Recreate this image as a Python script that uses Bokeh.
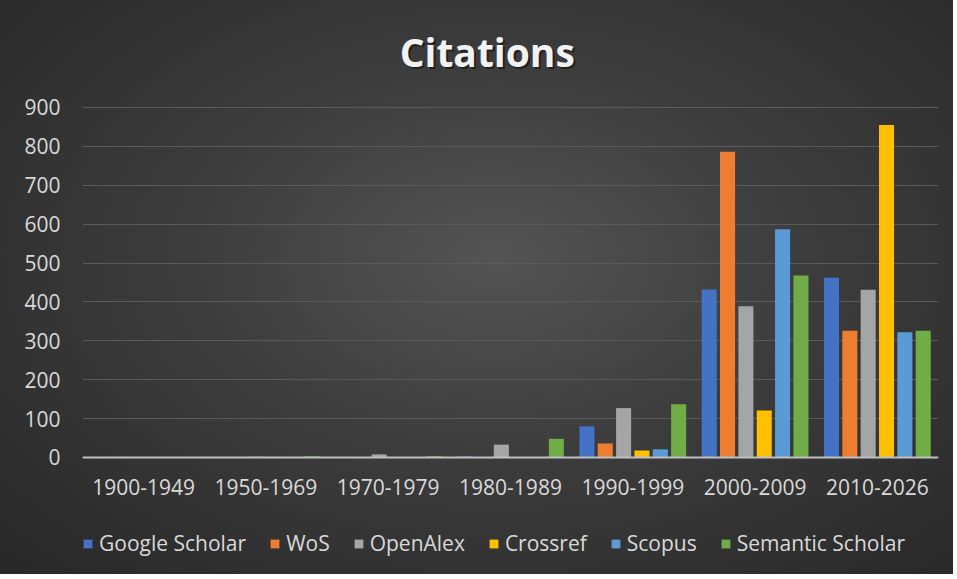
from bokeh.plotting import figure
from bokeh.models import FactorRange, Range1d, Legend, LegendItem, ColumnDataSource, FixedTicker, Label
from bokeh.transform import dodge
from bokeh.embed import file_html
from bokeh.resources import INLINE

# ---- data ----
periods = ["1900-1949", "1950-1969", "1970-1979", "1980-1989",
           "1990-1999", "2000-2009", "2010-2026"]
google_scholar = [0, 1, 1, 3, 80, 432, 462]
wos = [0, 0, 0, 1, 36, 786, 326]
openalex = [0, 2, 8, 33, 127, 389, 431]
crossref = [0, 1, 0, 1, 18, 121, 855]
scopus = [0, 0, 0, 1, 21, 587, 322]
semantic_scholar = [0, 3, 3, 48, 137, 468, 326]
series_names = ["Google Scholar", "WoS", "OpenAlex", "Crossref", "Scopus", "Semantic Scholar"]
series_keys = ["google_scholar", "wos", "openalex", "crossref", "scopus", "semantic_scholar"]
colors = ["#4472C4", "#ED7D31", "#A5A5A5", "#FFC000", "#5B9BD5", "#70AD47"]
y_ticks = [0, 100, 200, 300, 400, 500, 600, 700, 800, 900]
chart_title = "Citations"

source = ColumnDataSource(dict(
    periods=periods,
    google_scholar=google_scholar,
    wos=wos,
    openalex=openalex,
    crossref=crossref,
    scopus=scopus,
    semantic_scholar=semantic_scholar,
))

FONT = "Open Sans"
TXT = "#d9d9d9"

# frame spans the full height; the value axis (0..900) occupies the middle band,
# leaving room above for the title and below for the category labels and legend
p = figure(
    x_range=FactorRange(*periods, range_padding=0.0),
    y_range=Range1d(-300.9, 1175.1),
    width=953, height=574,
    output_backend="svg", toolbar_location=None,
    min_border_left=82, min_border_right=15,
    min_border_top=0, min_border_bottom=0,
)

p.styles = {"background": "radial-gradient(ellipse at 52% 45%, #545454 0%, #3c3c3c 45%, #272727 100%)"}
p.background_fill_alpha = 0
p.border_fill_alpha = 0
p.outline_line_color = None

# title (with a soft drop shadow)
for dx, dy, col, alpha in [(2, -2, "#000000", 0.45), (0, 0, "#f2f2f2", 1.0)]:
    p.add_layout(Label(x=3.31, y=1045, text=chart_title, text_align="center",
                       text_baseline="middle", x_offset=dx, y_offset=dy,
                       text_font=FONT, text_font_size="39px", text_font_style="bold",
                       text_color=col, text_alpha=alpha))

items = []
pitch = 0.15
for i, (key, name, col) in enumerate(zip(series_keys, series_names, colors)):
    r = p.vbar(x=dodge("periods", (i - 2.5) * pitch, range=p.x_range), top=key,
               width=0.123, source=source, fill_color=col, line_color=None)
    items.append(LegendItem(label=name, renderers=[r]))

legend = Legend(items=items, orientation="horizontal", location=(0, 17),
                label_text_font=FONT, label_text_font_size="21px", label_text_color=TXT,
                glyph_width=11, glyph_height=11, label_standoff=6, spacing=23,
                background_fill_alpha=0, border_line_color=None, margin=0, padding=0)
p.add_layout(legend)

ticker = FixedTicker(ticks=y_ticks)
p.yaxis.ticker = ticker
p.ygrid.ticker = ticker
p.yaxis.axis_line_color = None
p.yaxis.major_tick_line_color = None
p.yaxis.minor_tick_line_color = None
p.yaxis.major_label_standoff = 16
p.yaxis.major_label_text_font = FONT
p.yaxis.major_label_text_font_size = "21px"
p.yaxis.major_label_text_color = TXT

p.xaxis.fixed_location = 0
p.xaxis.axis_line_color = "#bfbfbf"
p.xaxis.axis_line_width = 2
p.xaxis.major_tick_line_color = None
p.xaxis.minor_tick_line_color = None
p.xaxis.major_label_standoff = 16
p.xaxis.major_label_text_font = FONT
p.xaxis.major_label_text_font_size = "21px"
p.xaxis.major_label_text_color = TXT

p.xgrid.grid_line_color = None
p.ygrid.grid_line_color = "#5a5a5a"
p.ygrid.grid_line_width = 1

open("out.html", "w").write(file_html(p, INLINE))
